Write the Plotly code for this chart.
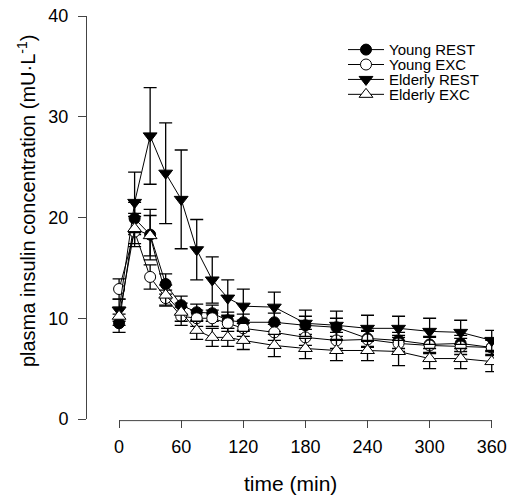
import plotly.graph_objects as go

time_min = [0, 15, 30, 45, 60, 75, 90, 105, 120, 150, 180, 210, 240, 270, 300, 330, 360]

young_rest = [9.5, 19.9, 18.3, 13.4, 11.3, 10.6, 10.5, 9.8, 9.6, 9.6, 9.3, 9.1, 8.0, 7.8, 7.4, 7.5, 7.1]
young_rest_se = [0.9, 1.6, 2.5, 1.0, 0.9, 0.8, 0.8, 0.8, 0.8, 0.9, 0.9, 0.9, 0.8, 0.8, 0.8, 0.8, 0.7]

young_exc = [12.9, 18.6, 14.1, 12.0, 10.2, 10.0, 10.0, 9.5, 9.0, 8.6, 8.1, 7.8, 7.9, 7.5, 7.3, 7.2, 7.1]
young_exc_se = [1.0, 1.5, 1.2, 0.8, 0.9, 0.8, 0.8, 0.8, 0.8, 0.8, 0.8, 0.8, 0.8, 0.8, 0.8, 0.8, 0.8]

elderly_rest = [10.8, 21.5, 28.1, 24.4, 21.8, 16.8, 13.8, 12.0, 11.2, 11.1, 9.5, 9.3, 9.0, 9.0, 8.7, 8.6, 7.8]
elderly_rest_se = [1.1, 3.0, 4.8, 5.0, 4.9, 3.0, 2.3, 1.8, 1.7, 1.5, 1.3, 1.4, 1.3, 1.2, 1.3, 1.2, 1.0]

elderly_exc = [10.2, 18.9, 18.2, 12.3, 10.6, 8.8, 8.1, 8.1, 7.8, 7.3, 7.0, 6.8, 6.8, 6.7, 6.0, 6.0, 5.7]
elderly_exc_se = [0.9, 1.5, 2.0, 1.0, 0.9, 0.9, 0.9, 0.9, 0.9, 1.1, 1.0, 1.0, 1.0, 1.4, 1.0, 1.0, 1.0]

x_ticks = [0, 60, 120, 180, 240, 300, 360]
y_ticks = [0, 10, 20, 30, 40]

series = [
    ("Young REST", young_rest, young_rest_se, "circle", "black", 11, "legend"),
    ("Young EXC", young_exc, young_exc_se, "circle", "white", 11, "legend2"),
    ("Elderly REST", elderly_rest, elderly_rest_se, "triangle-down", "black", 12, "legend3"),
    ("Elderly EXC", elderly_exc, elderly_exc_se, "triangle-up", "white", 12, "legend4"),
]

fig = go.Figure()
for name, vals, se, sym, fill, size, lg in series:
    fig.add_trace(go.Scatter(
        x=time_min, y=vals, name=name, mode="lines+markers", legend=lg,
        line=dict(color="black", width=1),
        marker=dict(symbol=sym, color=fill, size=size, line=dict(color="black", width=1)),
        error_y=dict(type="data", array=se, visible=True, color="black", thickness=1.3, width=6.5),
    ))

axis_color = "#444444"
fig.add_shape(type="line", xref="x", yref="paper", x0=x_ticks[0], x1=x_ticks[-1], y0=-0.004, y1=-0.004,
              line=dict(color=axis_color, width=1))

legend_rows = [0.916, 0.879, 0.842, 0.805]
leg_common = dict(x=0.629, xanchor="left", yanchor="middle", bgcolor="rgba(0,0,0,0)",
                  font=dict(size=15, color="black"), itemwidth=36)

fig.add_annotation(
    text="plasma insulin concentration (mU·L<sup>-1</sup>)", textangle=-90,
    xref="paper", yref="paper", x=-0.150, y=0.543, xanchor="center", yanchor="middle",
    showarrow=False, font=dict(size=20, color="black"),
)
fig.add_annotation(
    text="time (min)",
    xref="paper", yref="paper", x=0.5, y=-0.159, xanchor="center", yanchor="middle",
    showarrow=False, font=dict(size=21, color="black"),
)

fig.update_layout(
    width=507, height=495,
    margin=dict(l=87, r=13, t=16, b=76, autoexpand=False),
    paper_bgcolor="white", plot_bgcolor="white",
    font=dict(family="Liberation Sans, Arial, sans-serif", color="black", size=18),
    showlegend=True,
    legend=dict(y=legend_rows[0], **leg_common),
    legend2=dict(y=legend_rows[1], **leg_common),
    legend3=dict(y=legend_rows[2], **leg_common),
    legend4=dict(y=legend_rows[3], **leg_common),
)
fig.update_xaxes(
    range=[-31, 362.2], tickvals=x_ticks, ticks="outside", ticklen=8, tickcolor=axis_color,
    tickfont=dict(size=18), ticklabelstandoff=3, automargin=False,
    showline=False, showgrid=False, zeroline=False,
)
fig.update_yaxes(
    range=[0, 40], tickvals=y_ticks, ticks="outside", ticklen=8, tickcolor=axis_color,
    tickfont=dict(size=18), ticklabelstandoff=6, automargin=False,
    showline=True, linecolor=axis_color, linewidth=1, showgrid=False, zeroline=False,
)

fig.write_html("out.html")
